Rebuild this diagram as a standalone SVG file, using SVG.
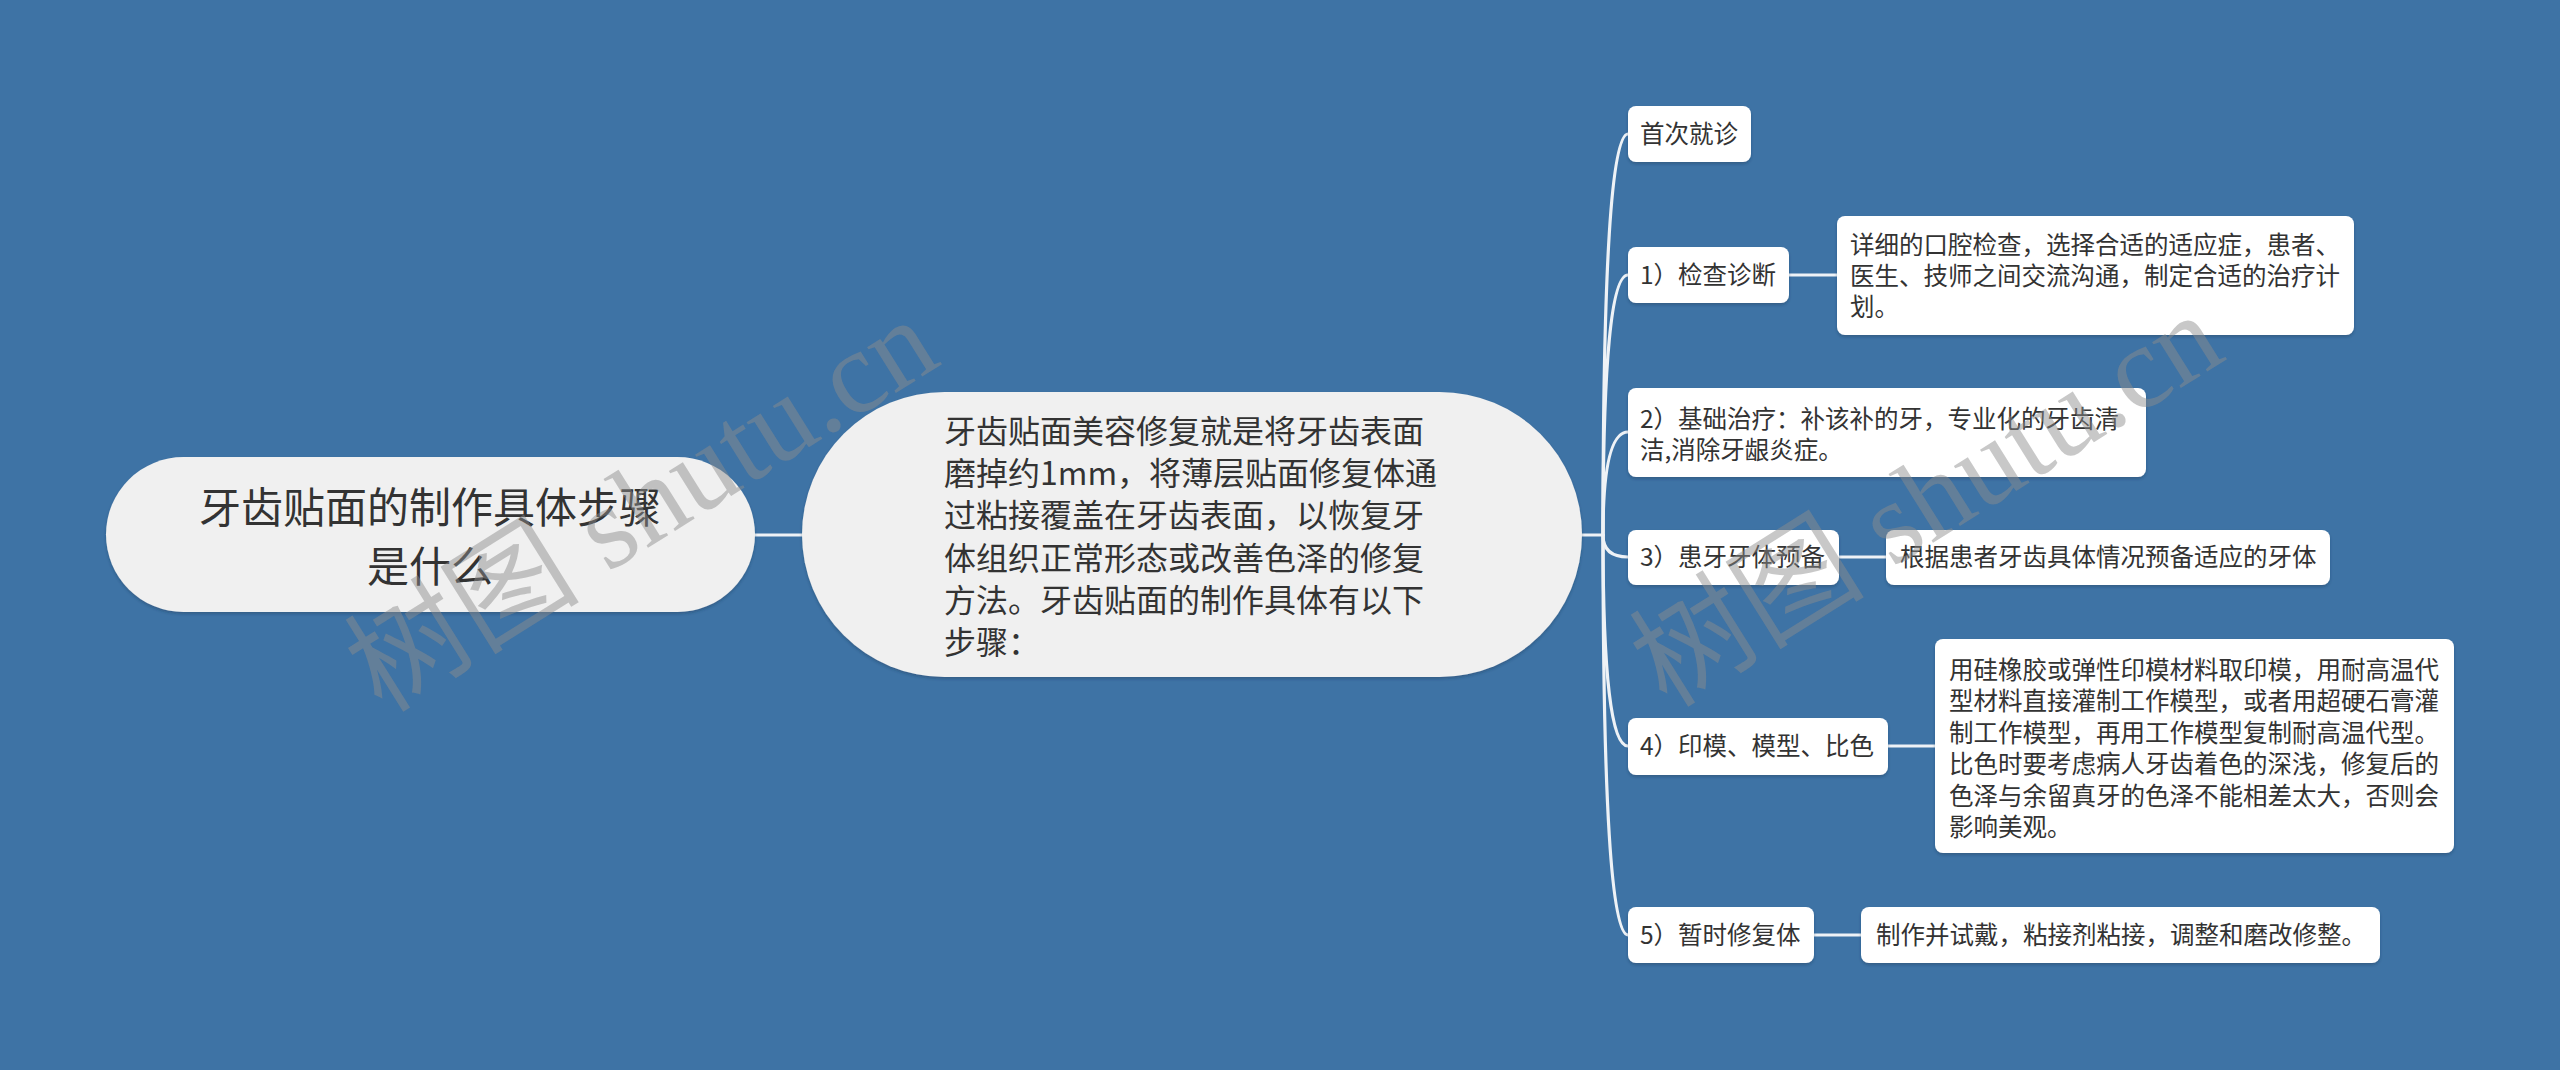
<svg xmlns="http://www.w3.org/2000/svg" width="2560" height="1070" viewBox="0 0 2560 1070">
<defs>
<filter id="sh" x="-5%" y="-10%" width="110%" height="130%">
<feDropShadow dx="0" dy="2" stdDeviation="1.5" flood-color="#1a3550" flood-opacity="0.35"/>
</filter>
<style>
.bg{fill:#3e73a5}
.pill{fill:#f0f0f0;filter:url(#sh)}
.box{fill:#ffffff;filter:url(#sh)}
.t{font-family:"Noto Sans CJK SC","Noto Sans",sans-serif;fill:#333333}
.t42{font-size:42px}
.t32{font-size:32px}
.t24{font-size:24.5px}
.c{fill:none;stroke:#eef2f6;stroke-width:3.2;stroke-linecap:round}
.wm{font-family:"Liberation Serif","Noto Sans CJK SC",serif;font-size:118px;fill:#8c8c8c;fill-opacity:0.48}
</style>
</defs>
<rect class="bg" x="0" y="0" width="2560" height="1070"/>

<g id="connectors">
<path class="c" d="M755 535 L802 535"/>
<path class="c" d="M1582 535 L1603 535"/>
<path class="c" d="M1603 535 Q1603 134 1628 134"/>
<path class="c" d="M1603 535 Q1603 275 1628 275"/>
<path class="c" d="M1603 535 Q1603 432 1628 432"/>
<path class="c" d="M1603 535 Q1603 557 1628 557"/>
<path class="c" d="M1603 535 Q1603 746 1628 746"/>
<path class="c" d="M1603 535 Q1603 935 1628 935"/>
<path class="c" d="M1789 275 L1837 275"/>
<path class="c" d="M1839 557 L1886 557"/>
<path class="c" d="M1888 746 L1935 746"/>
<path class="c" d="M1814 935 L1861 935"/>
</g>

<g id="root">
<rect class="pill" x="106" y="457" width="649" height="155" rx="77.5"/>
<text class="t t42" x="430" y="523" text-anchor="middle">牙齿贴面的制作具体步骤</text>
<text class="t t42" x="430" y="582" text-anchor="middle">是什么</text>
</g>

<g id="summary">
<rect class="pill" x="802" y="392" width="780" height="285" rx="142.5"/>
<text class="t t32" x="944" y="443">牙齿贴面美容修复就是将牙齿表面</text>
<text class="t t32" x="944" y="485">磨掉约1mm，将薄层贴面修复体通</text>
<text class="t t32" x="944" y="527">过粘接覆盖在牙齿表面，以恢复牙</text>
<text class="t t32" x="944" y="570">体组织正常形态或改善色泽的修复</text>
<text class="t t32" x="944" y="612">方法。牙齿贴面的制作具体有以下</text>
<text class="t t32" x="944" y="654">步骤：</text>
</g>

<g id="n-first">
<rect class="box" x="1628" y="106" width="123" height="56" rx="8"/>
<text class="t t24" x="1640" y="143">首次就诊</text>
</g>

<g id="n-step1">
<rect class="box" x="1628" y="247" width="161" height="56" rx="8"/>
<text class="t t24" x="1640" y="284">1）检查诊断</text>
</g>

<g id="n-step1-detail">
<rect class="box" x="1837" y="216" width="517" height="119" rx="8"/>
<text class="t t24" x="1850" y="254">详细的口腔检查，选择合适的适应症，患者、</text>
<text class="t t24" x="1850" y="285">医生、技师之间交流沟通，制定合适的治疗计</text>
<text class="t t24" x="1850" y="316">划。</text>
</g>

<g id="n-step2">
<rect class="box" x="1628" y="388" width="518" height="89" rx="8"/>
<text class="t t24" x="1640" y="428">2）基础治疗：补该补的牙，专业化的牙齿清</text>
<text class="t t24" x="1640" y="459">洁,消除牙龈炎症。</text>
</g>

<g id="n-step3">
<rect class="box" x="1628" y="530" width="211" height="55" rx="8"/>
<text class="t t24" x="1640" y="566">3）患牙牙体预备</text>
</g>

<g id="n-step3-detail">
<rect class="box" x="1886" y="530" width="444" height="55" rx="8"/>
<text class="t t24" x="1900" y="566">根据患者牙齿具体情况预备适应的牙体</text>
</g>

<g id="n-step4">
<rect class="box" x="1628" y="718" width="260" height="57" rx="8"/>
<text class="t t24" x="1640" y="755">4）印模、模型、比色</text>
</g>

<g id="n-step4-detail">
<rect class="box" x="1935" y="639" width="519" height="214" rx="8"/>
<text class="t t24" x="1949" y="679">用硅橡胶或弹性印模材料取印模，用耐高温代</text>
<text class="t t24" x="1949" y="710">型材料直接灌制工作模型，或者用超硬石膏灌</text>
<text class="t t24" x="1949" y="742">制工作模型，再用工作模型复制耐高温代型。</text>
<text class="t t24" x="1949" y="773">比色时要考虑病人牙齿着色的深浅，修复后的</text>
<text class="t t24" x="1949" y="805">色泽与余留真牙的色泽不能相差太大，否则会</text>
<text class="t t24" x="1949" y="836">影响美观。</text>
</g>

<g id="n-step5">
<rect class="box" x="1628" y="907" width="186" height="56" rx="8"/>
<text class="t t24" x="1640" y="944">5）暂时修复体</text>
</g>

<g id="n-step5-detail">
<rect class="box" x="1861" y="907" width="519" height="56" rx="8"/>
<text class="t t24" x="1876" y="944">制作并试戴，粘接剂粘接，调整和磨改修整。</text>
</g>

<g id="watermarks">
<text class="wm" x="382" y="714" transform="rotate(-32 382 714)">树图 shutu.cn</text>
<text class="wm" x="1667" y="709" transform="rotate(-32 1667 709)">树图 shutu.cn</text>
</g>
</svg>
